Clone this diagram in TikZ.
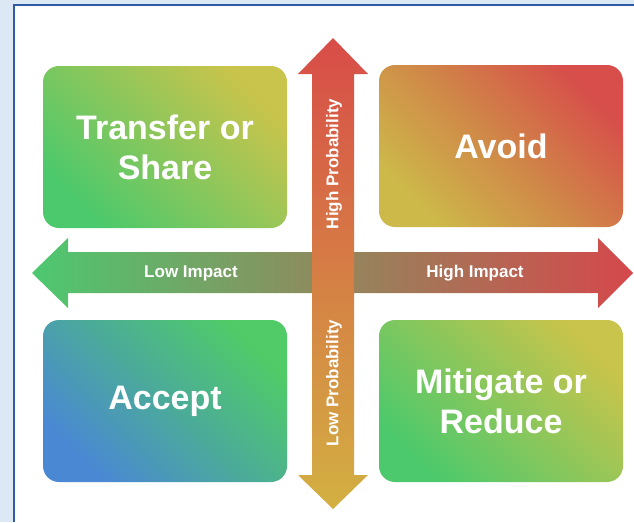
\documentclass[tikz,border=0pt]{standalone}
\usepackage{fontspec}
\setmainfont{Liberation Sans}
\definecolor{bgblue}{HTML}{DCE9F4}
\definecolor{frameblue}{HTML}{2F5AA6}
\definecolor{cgreen}{HTML}{4CC96C}
\definecolor{cyellow}{HTML}{C9C44B}
\definecolor{cavY}{HTML}{CDB94A}
\definecolor{cavM}{HTML}{D08748}
\definecolor{cavR}{HTML}{D74E4A}
\definecolor{cacB}{HTML}{4A88D4}
\definecolor{cacM}{HTML}{4BAA9A}
\definecolor{cacG}{HTML}{50CB68}
\definecolor{hL}{HTML}{4DC870}
\definecolor{hM}{HTML}{80895C}
\definecolor{hR}{HTML}{D5484B}
\definecolor{vT}{HTML}{D84C48}
\definecolor{vM}{HTML}{D07F45}
\definecolor{vB}{HTML}{D3B042}
\tikzset{
  quad/.style={rounded corners=16pt, minimum width=244pt, minimum height=162pt,
    inner sep=0pt, align=center, text=white,
    font=\fontsize{34}{40}\selectfont\bfseries},
  axislabel/.style={text=white, inner sep=0pt, font=\fontsize{17}{20}\selectfont\bfseries}
}
\begin{document}
\begin{tikzpicture}[x=1pt,y=-1pt]
\useasboundingbox (0,0) rectangle (634,522);
\fill[bgblue] (0,0) rectangle (634,522);
\fill[white] (13.5,4.5) rectangle (634,522);
\draw[frameblue, line width=2pt] (13.5,522) -- (13.5,4.5) -- (634,4.5);

% quadrant boxes
\node[quad, bottom color=cgreen, top color=cyellow, shading angle=-45] (transfer) at (165,147) {Transfer or\\Share};
\node[quad, bottom color=cavY, top color=cavR, middle color=cavM, shading angle=-45] (avoid) at (501,146) {Avoid};
\node[quad, bottom color=cacB, top color=cacG, middle color=cacM, shading angle=-45] (accept) at (165,401) {Accept};
\node[quad, bottom color=cgreen, top color=cyellow, shading angle=-45] (mitigate) at (501,401) {Mitigate or\\Reduce};

% horizontal double arrow
\shade[left color=hL, middle color=hM, right color=hR]
  (32,273) -- (68,238) -- (68,252) -- (598,252) -- (598,238) -- (633,273)
  -- (598,308) -- (598,293) -- (68,293) -- (68,308) -- cycle;
% vertical double arrow
\shade[top color=vT, middle color=vM, bottom color=vB]
  (333,38) -- (368,74) -- (354,74) -- (354,475) -- (368,475) -- (333,509)
  -- (298,475) -- (312,475) -- (312,74) -- (298,74) -- cycle;

\node[axislabel] (lowimp) at (191,273) {Low Impact};
\node[axislabel] (highimp) at (475,273) {High Impact};
\node[axislabel, rotate=90] (highprob) at (334,164) {High Probability};
\node[axislabel, rotate=90] (lowprob) at (334,383) {Low Probability};
\end{tikzpicture}
\end{document}
